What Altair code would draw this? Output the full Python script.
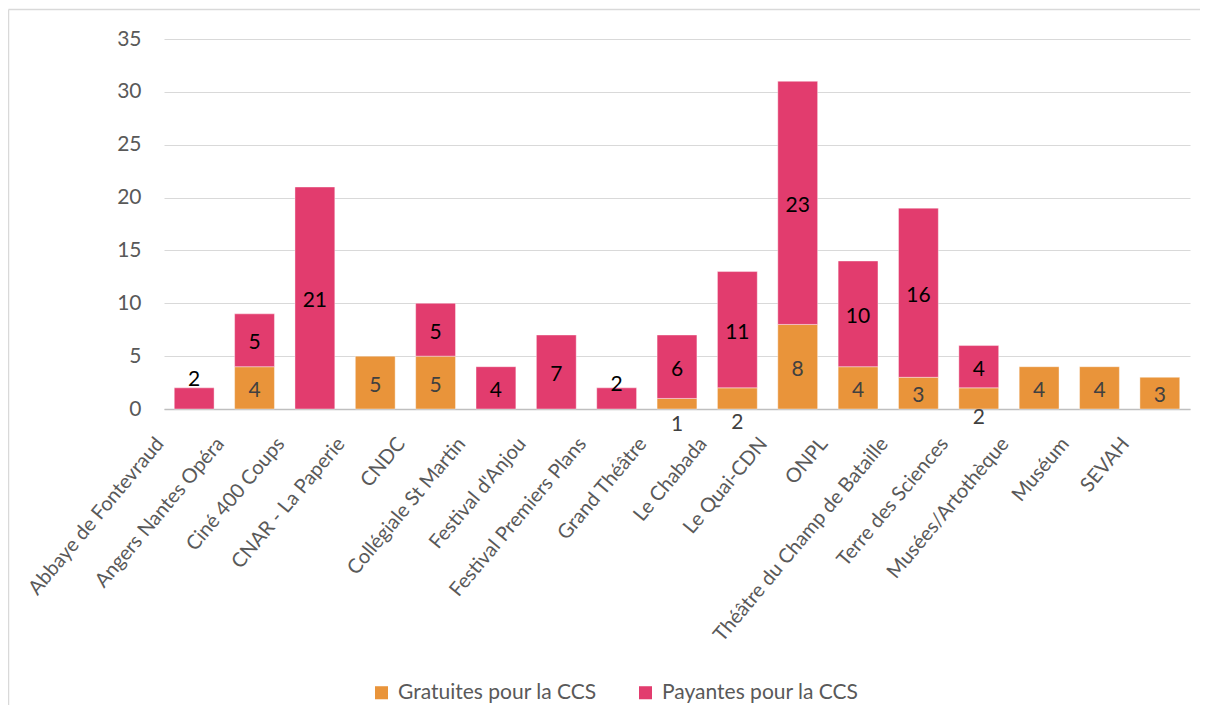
import altair as alt
import pandas as pd

categories = [
    "Abbaye de Fontevraud", "Angers Nantes Opéra", "Ciné 400 Coups", "CNAR - La Paperie",
    "CNDC", "Collégiale St Martin", "Festival d'Anjou", "Festival Premiers Plans",
    "Grand Théâtre", "Le Chabada", "Le Quai-CDN", "ONPL", "Théâtre du Champ de Bataille",
    "Terre des Sciences", "Musées/Artothèque", "Muséum", "SEVAH",
]
gratuites = [0, 4, 0, 5, 5, 0, 0, 0, 1, 2, 8, 4, 3, 2, 4, 4, 3]
payantes = [2, 5, 21, 0, 5, 4, 7, 2, 6, 11, 23, 10, 16, 4, 0, 0, 0]
series = ["Gratuites pour la CCS", "Payantes pour la CCS"]
colors = ["#E9943A", "#E23C6E"]
label_colors = ["#404040", "#000000"]
y_ticks = [0, 5, 10, 15, 20, 25, 30, 35]

# labels that were moved by hand in the original (value units)
label_moved = {
    ("Abbaye de Fontevraud", 1): 3.0,
    ("Festival Premiers Plans", 1): 2.55,
    ("Grand Théâtre", 0): -1.2,
    ("Le Chabada", 0): -1.0,
    ("Terre des Sciences", 0): -0.55,
}

rows = []
for i, c in enumerate(categories):
    g, p = gratuites[i], payantes[i]
    for k, (v, y0, y1) in enumerate([(g, 0, g), (p, g, g + p)]):
        if v <= 0:
            continue
        ly = label_moved.get((c, k), (y0 + y1) / 2)
        rows.append(dict(cat=c, serie=series[k], v=v, y0=y0, y1=y1, ly=ly,
                         lc=label_colors[k]))
df = pd.DataFrame(rows)

FONT = "Lato"
FS = 21
W, H = 1026, 370

x_enc = alt.X(
    "cat:N", sort=categories, title=None,
    scale=alt.Scale(paddingInner=0.34, paddingOuter=0.17),
    axis=alt.Axis(labelAngle=-50, labelFont=FONT, labelFontSize=20, labelColor="#595959",
                  labelAlign="right", labelBaseline="middle",
                  ticks=False, tickSize=0, domainColor="#bfbfbf", domainWidth=1.5,
                  labelPadding=31, labelOffset=-34, labelLimit=400),
)

bars = alt.Chart(df).mark_bar(stroke="#ffffff", strokeWidth=0.8, strokeOpacity=0.5).encode(
    x=x_enc,
    y=alt.Y("y0:Q", title=None, scale=alt.Scale(domain=[0, 35], nice=False),
            axis=alt.Axis(values=y_ticks, labelFont=FONT, labelFontSize=FS,
                          labelColor="#595959", ticks=False, tickSize=0, domain=False,
                          gridColor="#d9d9d9", gridWidth=1.2, labelPadding=23)),
    y2="y1:Q",
    color=alt.Color("serie:N", scale=alt.Scale(domain=series, range=colors),
                    legend=alt.Legend(title=None, orient="none", direction="horizontal",
                                      legendX=207, legendY=643, symbolType="square",
                                      symbolSize=170, symbolStrokeWidth=0,
                                      labelFont=FONT, labelFontSize=FS,
                                      labelColor="#595959", labelOffset=6,
                                      labelLimit=400, columnPadding=38, padding=0)),
)

labels = alt.Chart(df).mark_text(font=FONT, fontSize=FS, baseline="middle", dy=3).encode(
    x=alt.X("cat:N", sort=categories),
    y=alt.Y("ly:Q"),
    text=alt.Text("v:Q"),
    color=alt.Color("lc:N", scale=None),
)

border = alt.Chart(alt.Data(values=[{}]))
frame_top = border.mark_rule(stroke="#d9d9d9", strokeWidth=1.5).encode(
    x=alt.value(-155.5), x2=alt.value(1040), y=alt.value(-29.5)
)
frame_left = border.mark_rule(stroke="#d9d9d9", strokeWidth=1.5).encode(
    x=alt.value(-155.5), y=alt.value(-29.5), y2=alt.value(690)
)

chart = alt.layer(frame_top, frame_left, bars, labels).properties(
    width=W, height=H,
    autosize=alt.AutoSizeParams(type="none"),
    padding={"left": 156, "top": 31, "right": 10, "bottom": 296},
).configure_view(stroke=None)

chart.save("out.html", embed_options={"renderer": "svg", "actions": False})
